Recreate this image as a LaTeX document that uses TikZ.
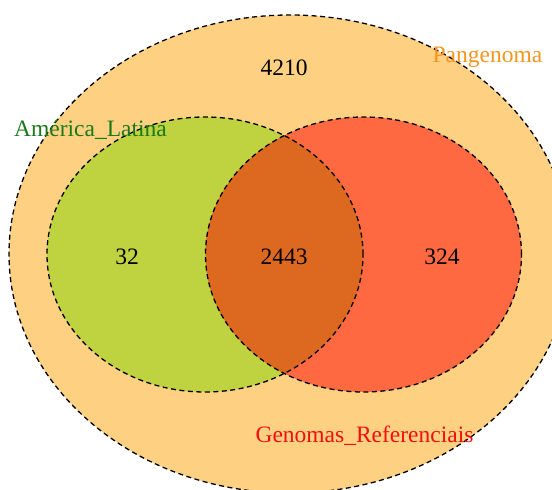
\documentclass[tikz,border=0pt]{standalone}
\usepackage{fontspec}
\setmainfont{Liberation Serif}
\definecolor{panfill}{HTML}{FDD082}
\definecolor{latfill}{HTML}{BFD23F}
\definecolor{reffill}{HTML}{FF6941}
\definecolor{interfill}{HTML}{DD6820}
\definecolor{pantext}{HTML}{F7941D}
\definecolor{lattext}{HTML}{1A7A1A}
\definecolor{reftext}{HTML}{F01010}
\begin{document}
\begin{tikzpicture}[x=1pt,y=1pt,
  outline/.style={draw=black,line width=1.3pt,dash pattern=on 5pt off 3.5pt},
  lbl/.style={anchor=base,inner sep=0pt,font=\fontsize{23.5}{28}\selectfont}]
\useasboundingbox (0,0) rectangle (552,490);
\clip (0,0) rectangle (552,490);
% fills
\fill[panfill] (290,236) ellipse [x radius=281, y radius=239];
\fill[latfill] (205,235.5) ellipse [x radius=158, y radius=137.5];
\fill[reffill] (363.5,235.5) ellipse [x radius=158, y radius=137.5];
\begin{scope}
  \clip (205,235.5) ellipse [x radius=158, y radius=137.5];
  \fill[interfill] (363.5,235.5) ellipse [x radius=158, y radius=137.5];
\end{scope}
% outlines
\draw[outline] (290,236) ellipse [x radius=281, y radius=239];
\draw[outline] (205,235.5) ellipse [x radius=158, y radius=137.5];
\draw[outline] (363.5,235.5) ellipse [x radius=158, y radius=137.5];
% labels
\node[lbl] (n4210) at (284,414) {4210};
\node[lbl] (n32) at (127,225) {32};
\node[lbl] (n2443) at (284,225) {2443};
\node[lbl] (n324) at (442,225) {324};
\node[lbl,text=pantext] (pan) at (487.5,427) {Pangenoma};
\node[lbl,text=lattext] (lat) at (90.5,353) {Am\'erica\_Latina};
\node[lbl,text=reftext] (ref) at (364.5,47) {Genomas\_Referenciais};
\end{tikzpicture}
\end{document}
